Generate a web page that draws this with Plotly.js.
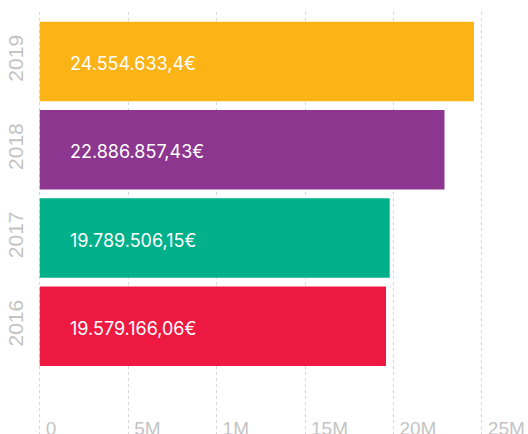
<!DOCTYPE html>
<html>
<head>
<meta charset="utf-8">
<script src="https://cdn.plot.ly/plotly-3.0.1.min.js"></script>
<style>html,body{margin:0;padding:0;overflow:hidden;background:#fff;}</style>
</head>
<body>
<div id="chart" style="width:528px;height:434px;"></div>
<script>
const years = ['2016', '2017', '2018', '2019'];
const amounts = [19579166.06, 19789506.15, 22886857.43, 24554633.4];
const amountLabels = ['19.579.166,06€', '19.789.506,15€', '22.886.857,43€', '24.554.633,4€'];
const barColors = ['#ED1941', '#00B08B', '#8C368F', '#FCB316'];
const tickVals = [0, 5e6, 10e6, 15e6, 20e6, 25e6];
const tickText = ['0', '5M', '1M', '15M', '20M', '25M'];

const trace = {
  type: 'bar',
  orientation: 'h',
  x: amounts,
  y: years,
  marker: {color: barColors},
  hoverinfo: 'none'
};

const annotations = years.map((y, i) => ({
  x: 0, y: i, xref: 'x', yref: 'y',
  text: amountLabels[i],
  showarrow: false,
  xanchor: 'left', yanchor: 'middle',
  xshift: 28, yshift: -2,
  font: {family: 'Inter, sans-serif', size: 18, color: '#ffffff'}
}));

const layout = {
  width: 528, height: 434,
  margin: {l: 38, r: 0, t: 12, b: 0},
  paper_bgcolor: '#ffffff', plot_bgcolor: '#ffffff',
  showlegend: false,
  bargap: 0.1,
  annotations: annotations,
  xaxis: {
    range: [-0.1e6, 27.61e6],
    tickvals: tickVals, ticktext: tickText,
    showgrid: true, gridcolor: '#d6d6d6', griddash: 'dot', gridwidth: 1,
    zeroline: false, showline: false, ticks: '',
    ticklabelposition: 'inside right',
    ticklabelstandoff: -11,
    ticklabelshift: 6,
    tickfont: {family: 'Liberation Sans, Arial, sans-serif', size: 19, color: '#c4c4c4'}
  },
  yaxis: {
    type: 'category',
    categoryorder: 'array', categoryarray: years,
    range: [-1.22, 3.56],
    showgrid: false, zeroline: false, showline: false, ticks: '',
    tickangle: -90,
    ticklabelstandoff: 10,
    tickfont: {family: 'Liberation Sans, Arial, sans-serif', size: 21, color: '#c4c4c4'}
  }
};

Plotly.newPlot('chart', [trace], layout, {displayModeBar: false, staticPlot: true});
</script>
</body>
</html>
